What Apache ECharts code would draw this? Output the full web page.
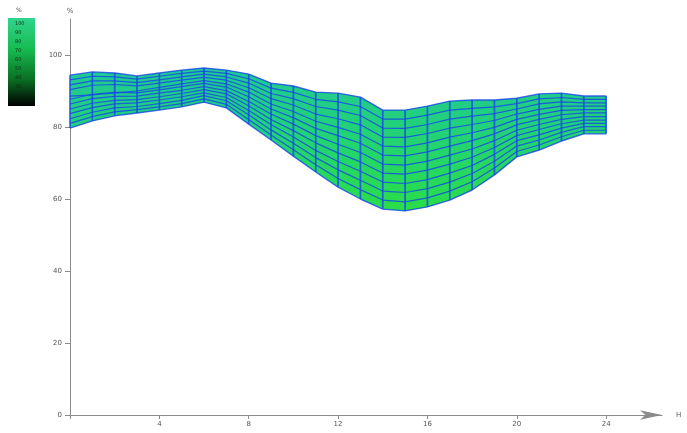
<!DOCTYPE html>
<html>
<head>
<meta charset="utf-8">
<script src="https://cdn.jsdelivr.net/npm/echarts@6/dist/echarts.min.js"></script>
<style>html,body{margin:0;padding:0;background:#fff}#c{width:687px;height:433px}</style>
</head>
<body>
<div id="c"></div>
<script>
var hours = [0,1,2,3,4,5,6,7,8,9,10,11,12,13,14,15,16,17,18,19,20,21,22,23,24];
var xTicks = [0,4,8,12,16,20,24];
var yTicks = [0,20,40,60,80,100];
var barLabels = ['100','90','80','70','60','50','40','30','20'];

var topCurve    = [94.4,95.3,95.0,94.2,95.0,95.8,96.4,95.8,94.7,92.2,91.4,89.7,89.4,88.3,84.7,84.7,85.8,87.2,87.5,87.5,88.0,89.2,89.4,88.6,88.6];
var curve1      = [93.1,94.1,93.9,93.3,94.1,94.9,95.5,94.9,93.4,90.8,89.6,87.7,87.0,85.7,82.2,82.2,83.3,84.7,85.2,85.6,86.5,87.8,88.2,87.7,87.7];
var curve2      = [91.7,92.8,92.8,92.3,93.1,93.9,94.7,93.9,92.2,89.3,87.9,85.7,84.7,83.2,79.7,79.6,80.7,82.2,83.0,83.7,85.0,86.4,87.0,86.7,86.7];
var curve3      = [90.4,91.6,91.8,91.4,92.2,93.0,93.8,93.0,90.9,87.9,86.1,83.6,82.3,80.6,77.2,77.1,78.2,79.7,80.7,81.8,83.6,84.9,85.8,85.8,85.8];
var curve4      = [88.6,88.9,89.5,90.0,91.0,92.0,92.9,92.0,89.7,86.4,84.3,81.6,79.9,78.0,74.7,74.5,75.6,77.2,78.4,79.9,82.1,83.5,84.6,84.8,84.8];
var curve5      = [87.7,89.1,89.6,89.5,90.3,91.2,92.1,91.1,88.4,85.0,82.6,79.6,77.6,75.5,72.2,72.0,73.1,74.7,76.2,78.1,80.6,82.1,83.4,83.9,83.9];
var curve6      = [86.4,87.9,88.5,88.6,89.4,90.2,91.2,90.1,87.1,83.6,80.8,77.6,75.2,72.9,69.7,69.4,70.5,72.2,73.9,76.2,79.1,80.7,82.1,82.9,82.9];
var curve7      = [85.0,86.6,87.4,87.6,88.4,89.3,90.4,89.2,85.9,82.1,79.0,75.6,72.8,70.3,67.2,66.9,68.0,69.7,71.6,74.3,77.6,79.3,80.9,81.9,81.9];
var curve8      = [83.7,85.4,86.4,86.7,87.5,88.4,89.5,88.2,84.6,80.7,77.2,73.5,70.4,67.7,64.7,64.3,65.4,67.2,69.3,72.4,76.2,77.8,79.7,81.0,81.0];
var curve9      = [82.3,84.1,85.3,85.7,86.5,87.4,88.7,87.3,83.4,79.2,75.5,71.5,68.1,65.2,62.2,61.8,62.9,64.7,67.1,70.5,74.7,76.4,78.5,80.1,80.1];
var curve10     = [81.0,82.9,84.2,84.8,85.6,86.5,87.8,86.3,82.1,77.8,73.7,69.5,65.7,62.6,59.7,59.2,60.3,62.2,64.8,68.6,73.2,75.0,77.3,79.1,79.1];
var bottomCurve = [79.7,81.7,83.1,83.9,84.7,85.6,86.9,85.3,80.8,76.4,71.9,67.5,63.3,60.0,57.2,56.7,57.8,59.7,62.5,66.7,71.7,73.6,76.1,78.1,78.1];

var lineColor = '#1646ea';
var allCurves = [topCurve,curve1,curve2,curve3,curve4,curve5,curve6,curve7,curve8,curve9,curve10,bottomCurve];

function pairs(arr){ return hours.map(function(h,i){ return [h, arr[i]]; }); }

var series = [];
// band fill: one quad per hour segment, between bottom and top curves
series.push({
  type:'custom', z:1, silent:true,
  data: hours.slice(0,-1).map(function(h,i){
    return [h, bottomCurve[i], topCurve[i], hours[i+1], bottomCurve[i+1], topCurve[i+1]];
  }),
  renderItem: function(params, api){
    var a = api.coord([api.value(0), api.value(1)]);
    var b = api.coord([api.value(0), api.value(2)]);
    var c = api.coord([api.value(3), api.value(5)]);
    var d = api.coord([api.value(3), api.value(4)]);
    var gTop = api.coord([0, 97])[1], gBot = api.coord([0, 56])[1];
    return {type:'polygon', shape:{points:[a,b,c,d]},
      style:{
        fill: new echarts.graphic.LinearGradient(0,gTop,0,gBot,[
          {offset:0,color:'#20c898'},
          {offset:0.45,color:'#22d276'},
          {offset:1,color:'#2ade46'}
        ], true),
        stroke: null
      }};
  }
});
allCurves.forEach(function(c, idx){
  series.push({
    type:'line', data: pairs(c), symbol:'none', silent:true, z:3,
    lineStyle:{color:lineColor, width: (idx===0||idx===allCurves.length-1)?1.4:1.2, opacity:0.82}
  });
});
// vertical hourly lines
series.push({
  type:'custom', z:4, silent:true,
  data: hours.map(function(h,i){ return [h, bottomCurve[i], topCurve[i]]; }),
  renderItem: function(params, api){
    var p1 = api.coord([api.value(0), api.value(1)]);
    var p2 = api.coord([api.value(0), api.value(2)]);
    return {type:'line', shape:{x1:p1[0],y1:p1[1],x2:p2[0],y2:p2[1]},
            style:{stroke:lineColor, lineWidth:1.7, opacity:0.82}};
  }
});

var chart = echarts.init(document.getElementById('c'));
chart.setOption({
  animation:false,
  backgroundColor:'#fff',
  grid:{left:70, right:25, top:19, bottom:18},
  xAxis:{
    type:'value', min:0, max:26.5,
    name:'H', nameLocation:'end', nameGap:14,
    nameTextStyle:{color:'#555', fontSize:7, fontFamily:'DejaVu Sans'},
    axisLine:{show:true, lineStyle:{color:'#8a8a8a', width:1}, symbol:['none','arrow'], symbolSize:[7,22]},
    axisTick:{show:true, length:4, customValues:xTicks, lineStyle:{color:'#8a8a8a'}},
    axisLabel:{customValues:xTicks.slice(1), color:'#555', fontSize:7, margin:6, fontFamily:'DejaVu Sans'},
    splitLine:{show:false}
  },
  yAxis:{
    type:'value', min:0, max:110,
    name:'%', nameLocation:'end', nameGap:4,
    nameTextStyle:{color:'#555', fontSize:7, fontFamily:'DejaVu Sans', align:'center'},
    axisLine:{show:true, lineStyle:{color:'#8a8a8a', width:1}},
    axisTick:{show:true, length:5, customValues:yTicks, lineStyle:{color:'#8a8a8a'}},
    axisLabel:{customValues:yTicks, color:'#555', fontSize:7, margin:8, fontFamily:'DejaVu Sans'},
    splitLine:{show:false}
  },
  graphic:[
    {type:'rect', left:8, top:18, shape:{width:27, height:88},
     style:{fill:new echarts.graphic.LinearGradient(0,0,0,1,[
       {offset:0,color:'#30d48c'},
       {offset:0.35,color:'#16bc52'},
       {offset:0.7,color:'#0a6e24'},
       {offset:1,color:'#000000'}
     ])}},
    {type:'text', left:16, top:7, style:{text:'%', fontSize:6, fill:'#555', fontFamily:'DejaVu Sans'}}
  ].concat(barLabels.map(function(t,i){
    return {type:'text', left:15, top:21+i*9, style:{text:t, fontSize:5, fill:'#103010', fontFamily:'DejaVu Sans'}};
  })),
  series: series
});
</script>
</body>
</html>
